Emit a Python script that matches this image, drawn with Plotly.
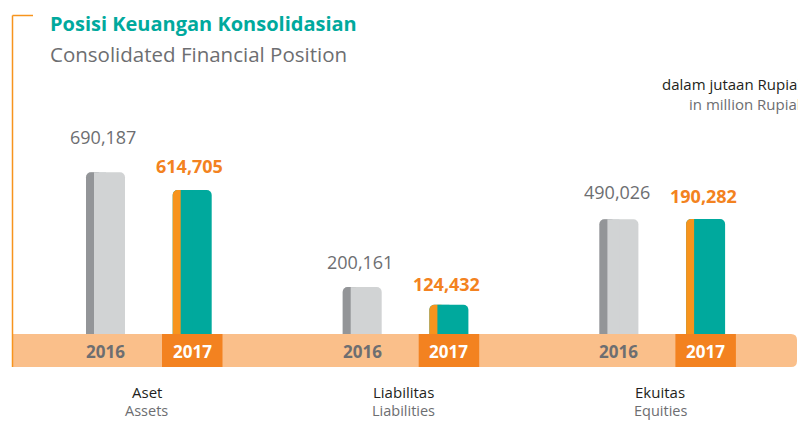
import plotly.graph_objects as go

# ---------------- data ----------------
categories_id = ["Aset", "Liabilitas", "Ekuitas"]
categories_en = ["Assets", "Liabilities", "Equities"]
years = ["2016", "2017"]
values_2016 = [690187, 200161, 490026]
values_2017 = [614705, 124432, 490273]
labels_2016 = ["690,187", "200,161", "490,026"]
labels_2017 = ["614,705", "124,432", "190,282"]

# ---------------- style / layout constants ----------------
W, H = 798, 421
U = 256.7            # px per category
C0 = 148.7           # px of first category centre
BAR_W = 39           # px
STRIP_W = 8          # px
TEAL = "#00A99D"
ORANGE = "#F7941D"
DARK_ORANGE = "#F38220"
PEACH = "#FABF8A"
GREY_TXT = "#6D6E71"
GREY_DARK = "#939598"
GREY_LIGHT = "#D1D3D4"
FONT = "Open Sans"

lift_2016 = [35, 25, 27]
lift_2017 = [24, 21, 23]

left_2016 = (86 - C0) / U
left_2017 = (172.7 - C0) / U

def px(x):
    return x / W

def py(y):
    return 1 - y / H

fig = go.Figure()

def add_bar(vals, left, light, dark):
    common = dict(x=categories_id, y=vals, hoverinfo="skip", showlegend=False,
                  marker_line_width=0)
    fig.add_trace(go.Bar(offset=left, width=BAR_W / U, marker_color=light,
                         marker_cornerradius=5, **common))
    fig.add_trace(go.Bar(offset=left, width=16 / U, marker_color=dark,
                         marker_cornerradius=5, **common))
    fig.add_trace(go.Bar(offset=left + STRIP_W / U, width=12 / U, marker_color=light,
                         marker_cornerradius=0, **common))

add_bar(values_2016, left_2016, GREY_LIGHT, GREY_DARK)
add_bar(values_2017, left_2017, TEAL, ORANGE)

# y scale: 0 at px 334, ~0.2343 px per thousand
k = 0.23434 / 1000
ymin = -(H - 334) / k
ymax = ymin + H / k

shapes = []
# peach band with rounded right end
x0, x1, yt, yb, r = px(12), px(797), py(334), py(367), 6
rx, ry = r / W, r / H
shapes.append(dict(type="path", xref="paper", yref="paper", layer="below",
                   path=f"M {x0},{yt} L {x1-rx},{yt} Q {x1},{yt} {x1},{yt-ry} "
                        f"L {x1},{yb+ry} Q {x1},{yb} {x1-rx},{yb} L {x0},{yb} Z",
                   fillcolor=PEACH, line_width=0))
# orange bracket
shapes.append(dict(type="line", xref="paper", yref="paper", x0=px(12.5), x1=px(12.5),
                   y0=py(15.5), y1=py(367), line=dict(color=ORANGE, width=1.5)))
shapes.append(dict(type="line", xref="paper", yref="paper", x0=px(12.5), x1=px(33),
                   y0=py(15.5), y1=py(15.5), line=dict(color=ORANGE, width=1.5)))
# 2017 dark orange boxes
for i in range(len(categories_id)):
    shapes.append(dict(type="rect", xref="x", yref="paper", layer="below",
                       x0=i + (162 - C0) / U, x1=i + (222.5 - C0) / U,
                       y0=py(367), y1=py(334), fillcolor=DARK_ORANGE, line_width=0))

ann = []
for i, cat in enumerate(categories_id):
    # value labels
    ann.append(dict(x=cat, y=values_2016[i], xref="x", yref="y", text=labels_2016[i],
                    showarrow=False, xshift=-45.5, yshift=lift_2016[i], yanchor="middle",
                    font=dict(family=FONT, size=18, color=GREY_TXT)))
    ann.append(dict(x=cat, y=values_2017[i], xref="x", yref="y",
                    text=f"<b>{labels_2017[i]}</b>",
                    showarrow=False, xshift=41, yshift=lift_2017[i], yanchor="middle",
                    font=dict(family=FONT, size=18, color=DARK_ORANGE)))
    # year labels in band
    ann.append(dict(x=cat, y=py(351), xref="x", yref="paper", text=f"<b>{years[0]}</b>",
                    showarrow=False, xshift=-43.2, yanchor="middle",
                    font=dict(family=FONT, size=17, color=GREY_TXT)))
    ann.append(dict(x=cat, y=py(351), xref="x", yref="paper", text=f"<b>{years[1]}</b>",
                    showarrow=False, xshift=43.3, yanchor="middle",
                    font=dict(family=FONT, size=17, color="white")))
    # category labels
    ann.append(dict(x=cat, y=py(391.5), xref="x", yref="paper", text=cat,
                    showarrow=False, xshift=-2, yanchor="middle",
                    font=dict(family=FONT, size=15, color="#231F20")))
    ann.append(dict(x=cat, y=py(410.5), xref="x", yref="paper", text=categories_en[i],
                    showarrow=False, xshift=-2, yanchor="middle",
                    font=dict(family=FONT, size=14.5, color=GREY_TXT)))

# titles
ann.append(dict(x=px(48), y=py(24), xref="paper", yref="paper",
                text="<b>Posisi Keuangan Konsolidasian</b>", showarrow=False,
                xanchor="left", yanchor="middle",
                font=dict(family=FONT, size=20, color=TEAL)))
ann.append(dict(x=px(48), y=py(54), xref="paper", yref="paper",
                text="Consolidated Financial Position", showarrow=False,
                xanchor="left", yanchor="middle",
                font=dict(family=FONT, size=20.5, color=GREY_TXT)))
ann.append(dict(x=px(808), y=py(84), xref="paper", yref="paper",
                text="dalam jutaan Rupiah", showarrow=False,
                xanchor="right", yanchor="middle",
                font=dict(family=FONT, size=15, color="#231F20")))
ann.append(dict(x=px(808), y=py(104), xref="paper", yref="paper",
                text="in million Rupiah", showarrow=False,
                xanchor="right", yanchor="middle",
                font=dict(family=FONT, size=15, color=GREY_TXT)))

fig.update_layout(
    width=W, height=H,
    margin=dict(l=0, r=0, t=0, b=0),
    paper_bgcolor="white", plot_bgcolor="white",
    barmode="overlay",
    shapes=shapes, annotations=ann,
    xaxis=dict(type="category", range=[-C0 / U, (W - C0) / U], visible=False,
               fixedrange=True),
    yaxis=dict(range=[ymin, ymax], visible=False, fixedrange=True),
    font=dict(family=FONT),
)

fig.write_html("out.html", config={"displayModeBar": False},
               post_script="document.body.style.margin='0';")
